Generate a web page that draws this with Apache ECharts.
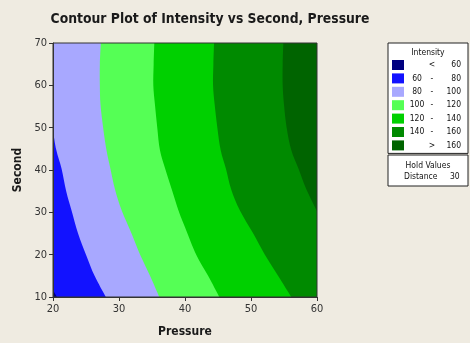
<!DOCTYPE html>
<html>
<head>
<meta charset="utf-8">
<script src="https://cdn.jsdelivr.net/npm/echarts@6/dist/echarts.min.js"></script>
<style>
  html, body { margin: 0; padding: 0; background: #efebe1; }
  #chart { width: 470px; height: 343px; }
</style>
</head>
<body>
<div id="chart"></div>
<script>
// axis ticks
const pressureTicks = [20, 30, 40, 50, 60];
const secondTicks = [10, 20, 30, 40, 50, 60, 70];

// contour levels (legend)
const levelNames = ['<60', '60-80', '80-100', '100-120', '120-140', '140-160', '>160'];
const levelLow = [null, 60, 80, 100, 120, 140, 160];
const levelHigh = [60, 80, 100, 120, 140, 160, null];
const levelColors = ['#000080', '#1212ff', '#a8a8ff', '#55ff55', '#00d000', '#008a00', '#006400'];

// contour edges, [Pressure, Second], bottom to top
const edge60 = [[20.6, 10], [20, 11.6]];
const edge80 = [[28.0, 10], [26.3, 15], [25.0, 20], [23.8, 25], [22.8, 30.5], [22.0, 35], [21.3, 40.3], [20.5, 44.7], [20, 49.3]];
const edge100 = [[36.1, 10], [34.7, 15], [33.2, 20], [31.9, 25], [30.4, 30.5], [29.4, 35.4], [28.7, 40.3], [28.1, 44.7], [27.6, 50], [27.2, 55.4], [27.1, 60], [27.1, 65], [27.25, 70]];
const edge120 = [[45.2, 10], [43.5, 15], [41.7, 20], [40.0, 26.5], [39.0, 30.5], [38.0, 35.4], [37.0, 40.3], [36.2, 44.7], [35.8, 50], [35.45, 55.4], [35.2, 60], [35.25, 65], [35.35, 70]];
const edge140 = [[56.1, 10], [54.1, 15], [52.1, 20], [50.3, 25.1], [48.3, 30.5], [47.0, 35.4], [46.2, 40.3], [45.4, 44.7], [44.9, 50], [44.5, 55.4], [44.25, 60], [44.3, 65], [44.4, 70]];
const edge160 = [[60, 30.3], [58.4, 35.4], [57.2, 40.3], [56.1, 44.7], [55.4, 50], [55.0, 55.4], [54.8, 60], [54.8, 65], [54.9, 70]];
const edgeMax = [[60, 10], [60, 70]];

// hold values
const holdName = 'Distance';
const holdValue = 30;

const FONT = "'DejaVu Sans Condensed', 'DejaVu Sans', sans-serif";
const xMin = pressureTicks[0], yMin = secondTicks[0];

// every region is "everything left of its upper edge", painted from top level down
const edges = [edge60, edge80, edge100, edge120, edge140, edge160, edgeMax];

// smooth curve through the edge points (catmull-rom, in pixels)
function edgePath(pts) {
  let d = '';
  for (let i = 0; i < pts.length - 1; i++) {
    const p0 = pts[Math.max(i - 1, 0)], p1 = pts[i], p2 = pts[i + 1], p3 = pts[Math.min(i + 2, pts.length - 1)];
    const c1 = [p1[0] + (p2[0] - p0[0]) / 6, p1[1] + (p2[1] - p0[1]) / 6];
    const c2 = [p2[0] - (p3[0] - p1[0]) / 6, p2[1] - (p3[1] - p1[1]) / 6];
    d += ' C' + c1[0] + ' ' + c1[1] + ' ' + c2[0] + ' ' + c2[1] + ' ' + p2[0] + ' ' + p2[1];
  }
  return d;
}

function regionSeries(i) {
  const edge = edges[i];
  const first = edge[0], last = edge[edge.length - 1];
  return {
    name: levelNames[i],
    type: 'custom',
    clip: true,
    z: 2,
    itemStyle: { color: levelColors[i] },
    data: [[xMin, yMin]],
    renderItem: function (params, api) {
      const px = edge.map(p => api.coord(p));
      const a = api.coord([xMin, yMin]);
      const b = api.coord([first[0], yMin]);
      const e = api.coord([xMin, last[1]]);
      const d = 'M' + a[0] + ' ' + a[1] + ' L' + b[0] + ' ' + b[1] +
        ' L' + px[0][0] + ' ' + px[0][1] + edgePath(px) +
        ' L' + e[0] + ' ' + e[1] + ' Z';
      return {
        type: 'path',
        shape: { pathData: d },
        style: { fill: api.visual('color'), stroke: null }
      };
    }
  };
}

const series = [];
for (let i = edges.length - 1; i >= 0; i--) series.push(regionSeries(i));

const labelMap = {};
levelNames.forEach((n, i) => {
  const hi = levelHigh[i] == null ? levelLow[i] : levelHigh[i];
  const midTxt = levelLow[i] == null ? '<' : '>';
  labelMap[n] = (levelLow[i] != null && levelHigh[i] != null)
    ? '{a|' + levelLow[i] + '}{b|-}{c|' + hi + '}'
    : '{a|}{b|' + midTxt + '}{c|' + hi + '}';
});

const chart = echarts.init(document.getElementById('chart'));
chart.setOption({
  backgroundColor: '#efebe1',
  animation: false,
  title: {
    text: 'Contour Plot of Intensity vs Second, Pressure',
    left: 205, top: 7, textAlign: 'center',
    textStyle: { fontFamily: FONT, fontSize: 13.8, fontWeight: 'bold', color: '#1a1a1a' }
  },
  grid: {
    left: 53, right: 153, top: 43, bottom: 39,
    show: true, borderColor: '#333', borderWidth: 1, backgroundColor: 'transparent', z: 5
  },
  xAxis: {
    type: 'value', min: pressureTicks[0], max: pressureTicks[pressureTicks.length - 1], interval: 10,
    name: 'Pressure', nameLocation: 'middle', nameGap: 29,
    nameTextStyle: { fontFamily: FONT, fontSize: 12, fontWeight: 'bold', color: '#1a1a1a' },
    axisLine: { show: true, lineStyle: { color: '#333' } },
    axisTick: { show: true, length: 4, lineStyle: { color: '#333' } },
    axisLabel: { fontFamily: FONT, fontSize: 11, color: '#333', margin: 7 },
    splitLine: { show: false },
    z: 6
  },
  yAxis: {
    type: 'value', min: secondTicks[0], max: secondTicks[secondTicks.length - 1], interval: 10,
    name: 'Second', nameLocation: 'middle', nameGap: 28,
    nameTextStyle: { fontFamily: FONT, fontSize: 12, fontWeight: 'bold', color: '#1a1a1a' },
    axisLine: { show: true, lineStyle: { color: '#333' } },
    axisTick: { show: true, length: 4, lineStyle: { color: '#333' } },
    axisLabel: { fontFamily: FONT, fontSize: 11, color: '#333', margin: 6 },
    splitLine: { show: false },
    z: 6
  },
  legend: {
    data: levelNames,
    orient: 'vertical',
    left: 388, top: 43,
    padding: [17, 7, 3, 4],
    backgroundColor: '#fff',
    borderColor: '#222', borderWidth: 1,
    itemWidth: 12, itemHeight: 10, itemGap: 3.4,
    icon: 'rect',
    selectedMode: false,
    formatter: n => labelMap[n],
    textStyle: {
      fontFamily: FONT, fontSize: 8.5, color: '#111',
      rich: {
        a: { width: 16, align: 'right', fontFamily: FONT, fontSize: 8.5, color: '#111' },
        b: { width: 14, align: 'center', fontFamily: FONT, fontSize: 8.5, color: '#111' },
        c: { width: 22, align: 'right', fontFamily: FONT, fontSize: 8.5, color: '#111' }
      }
    }
  },
  graphic: [
    {
      type: 'text', x: 428, y: 53, z: 100,
      style: { text: 'Intensity', fontFamily: FONT, fontSize: 8.5, fill: '#111', align: 'center', verticalAlign: 'middle' }
    },
    {
      type: 'rect', x: 388, y: 155, z: 100,
      shape: { x: 0, y: 0, width: 80, height: 31 },
      style: { fill: '#fff', stroke: '#222', lineWidth: 1 }
    },
    {
      type: 'text', x: 428, y: 166, z: 101,
      style: { text: 'Hold Values', fontFamily: FONT, fontSize: 8.5, fill: '#111', align: 'center', verticalAlign: 'middle' }
    },
    {
      type: 'text', x: 404, y: 177, z: 101,
      style: { text: holdName, fontFamily: FONT, fontSize: 8.5, fill: '#111', align: 'left', verticalAlign: 'middle' }
    },
    {
      type: 'text', x: 450, y: 177, z: 101,
      style: { text: String(holdValue), fontFamily: FONT, fontSize: 8.5, fill: '#111', align: 'left', verticalAlign: 'middle' }
    }
  ],
  series: series
});
</script>
</body>
</html>
